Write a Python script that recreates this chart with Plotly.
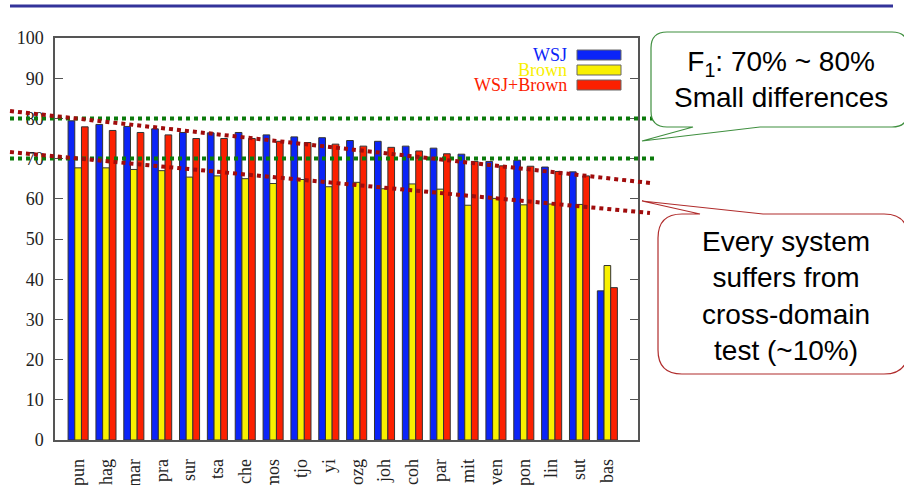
import plotly.graph_objects as go

# F1 scores per system, tested on WSJ, Brown and WSJ+Brown
systems = ["pun", "hag", "mar", "pra", "sur", "tsa", "che", "mos", "tjo", "yi",
           "ozg", "joh", "coh", "par", "mit", "ven", "pon", "lin", "sut", "bas"]
wsj = [79.4, 78.5, 78.0, 77.4, 76.5, 76.4, 76.5, 75.9, 75.4, 75.2,
       74.5, 74.3, 73.1, 72.6, 71.1, 69.3, 69.6, 67.9, 66.7, 37.1]
brown = [67.7, 67.7, 67.3, 67.0, 65.4, 65.7, 65.0, 63.8, 64.8, 63.0,
         64.1, 62.5, 63.7, 62.4, 58.4, 60.1, 58.5, 58.7, 58.6, 43.4]
combined = [77.9, 77.0, 76.5, 75.9, 75.0, 75.0, 75.0, 74.3, 74.0, 73.6,
            73.1, 72.8, 71.9, 71.2, 69.3, 68.2, 68.1, 66.8, 65.7, 37.9]
y_ticks = [0, 10, 20, 30, 40, 50, 60, 70, 80, 90, 100]

series = [("WSJ", wsj, "#0b24f8"),
          ("Brown", brown, "#f8f000"),
          ("WSJ+Brown", combined, "#fc2000")]

W, H = 904, 485
L, R, T, B = 55, 638, 38, 440          # plot area in pixels


def px(x):
    return (x - L) / (R - L)


def py(y):
    return (B - y) / (B - T)


fig = go.Figure()
for name, vals, col in series:
    fig.add_trace(go.Bar(
        x=systems, y=vals, name=name, showlegend=False,
        marker=dict(color=col, line=dict(color="#333333", width=1)),
    ))

serif = "Liberation Serif, Times New Roman, serif"
sans = "Liberation Sans, Arial, sans-serif"

shapes = []
annotations = []

# header rule
shapes.append(dict(type="line", xref="paper", yref="paper",
                   x0=px(10), x1=px(893), y0=py(6), y1=py(6),
                   line=dict(color="#33339a", width=3)))

# legend: label on the left, swatch on the right
legend_rows = [55, 70, 85]
for (name, _, col), yc in zip(series, legend_rows):
    annotations.append(dict(xref="paper", yref="paper", x=px(569), y=py(yc),
                            xanchor="right", yanchor="middle", showarrow=False,
                            text=name, font=dict(family=serif, size=18, color=col)))
    shapes.append(dict(type="rect", xref="paper", yref="paper",
                       x0=px(577), x1=px(621), y0=py(yc - 5), y1=py(yc + 5),
                       fillcolor=col, line=dict(color="#666666", width=1)))

# 70% and 80% reference levels
for level in (80, 70):
    shapes.append(dict(type="line", xref="paper", yref="y domain",
                       x0=px(10), x1=px(654), y0=level / 100, y1=level / 100,
                       line=dict(color="#0b7a0b", width=4, dash="dot"),
                       layer="above"))

# downward trend guides
for (x0, y0, x1, y1) in [(10, 111, 650, 183), (10, 152, 650, 213)]:
    shapes.append(dict(type="line", xref="paper", yref="paper",
                       x0=px(x0), y0=py(y0), x1=px(x1), y1=py(y1),
                       line=dict(color="#a00c0c", width=4, dash="dot"),
                       layer="above"))


def bubble(x0, y0, x1, y1, r, tail, on_top):
    """Rounded box with a pointer tail, as an SVG path in paper units."""
    def p(x, y):
        return f"{px(x):.5f},{py(y):.5f}"
    a, tip, b = tail
    d = f"M{p(x0 + r, y0)} "
    if on_top:
        d += f"L{p(a, y0)} L{p(*tip)} L{p(b, y0)} "
    d += f"L{p(x1 - r, y0)} Q{p(x1, y0)} {p(x1, y0 + r)} "
    d += f"L{p(x1, y1 - r)} Q{p(x1, y1)} {p(x1 - r, y1)} "
    if not on_top:
        d += f"L{p(b, y1)} L{p(*tip)} L{p(a, y1)} "
    d += f"L{p(x0 + r, y1)} Q{p(x0, y1)} {p(x0, y1 - r)} "
    d += f"L{p(x0, y0 + r)} Q{p(x0, y0)} {p(x0 + r, y0)} Z"
    return d


shapes.append(dict(type="path", xref="paper", yref="paper",
                   path=bubble(651, 32, 908, 127, 16, (693, (642, 141), 760), False),
                   fillcolor="white", line=dict(color="#3f8f3f", width=1.2),
                   layer="above"))
shapes.append(dict(type="path", xref="paper", yref="paper",
                   path=bubble(658, 214, 908, 374, 24, (700, (642, 201), 763), True),
                   fillcolor="white", line=dict(color="#b02c2c", width=1.2),
                   layer="above"))

annotations.append(dict(xref="paper", yref="paper", x=px(781), y=py(79),
                        xanchor="center", yanchor="middle", showarrow=False,
                        text="F<sub>1</sub>: 70% ~ 80%<br>Small differences",
                        font=dict(family=sans, size=28, color="black")))
annotations.append(dict(xref="paper", yref="paper", x=px(786), y=py(296),
                        xanchor="center", yanchor="middle", showarrow=False,
                        text="Every system<br>suffers from<br>cross-domain<br>test (~10%)",
                        font=dict(family=sans, size=28, color="black")))

fig.update_layout(
    width=W, height=H,
    margin=dict(l=L, r=W - R, t=T, b=H - B, autoexpand=False),
    paper_bgcolor="white", plot_bgcolor="white",
    barmode="group", bargap=0.28, bargroupgap=0,
    shapes=shapes, annotations=annotations,
    font=dict(family=serif, size=18, color="#222222"),
    xaxis=dict(range=[-0.83, 20.1], tickangle=-90, ticks="", automargin=False,
               showline=True, linecolor="#555555", linewidth=1.5, mirror=True,
               showgrid=False, ticklabelstandoff=10,
               tickfont=dict(family=serif, size=18, color="#222222")),
    yaxis=dict(range=[0, 100], tickvals=y_ticks, ticks="inside", ticklen=8,
               automargin=False,
               tickcolor="#555555", showline=True, linecolor="#555555",
               linewidth=1.5, mirror="allticks", showgrid=False, zeroline=False,
               ticklabelstandoff=6,
               tickfont=dict(family=serif, size=18, color="#222222")),
)

fig.write_html("out.html")
